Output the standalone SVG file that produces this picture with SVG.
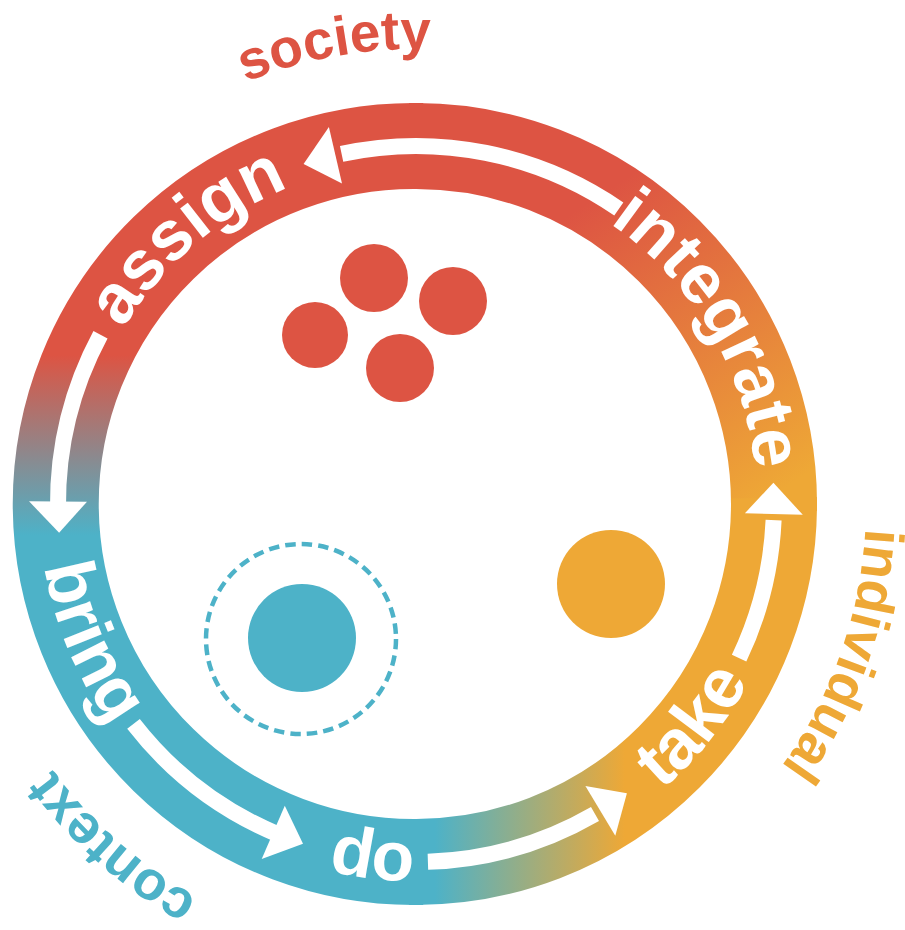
<svg xmlns="http://www.w3.org/2000/svg" xmlns:xlink="http://www.w3.org/1999/xlink" width="905" height="930" viewBox="0 0 905 930">
<defs>
<style>
.band{fill:none;stroke-width:86}
.lbl{font-family:"Liberation Sans",Arial,Helvetica,sans-serif;font-weight:bold;font-size:70px;fill:#ffffff}
.out{font-family:"Liberation Sans",Arial,Helvetica,sans-serif;font-weight:bold;font-size:55px}
.shaft{fill:none;stroke:#ffffff;stroke-width:16;stroke-linecap:butt}
.head{fill:#ffffff}
</style>
<linearGradient id="gLeft" gradientUnits="userSpaceOnUse" x1="0" y1="355" x2="0" y2="535">
<stop offset="0" stop-color="#DD5443"/><stop offset="1" stop-color="#4DB2C8"/>
</linearGradient>
<linearGradient id="gTR" gradientUnits="userSpaceOnUse" x1="600" y1="195" x2="790" y2="485">
<stop offset="0" stop-color="#DD5443"/><stop offset="1" stop-color="#EEA836"/>
</linearGradient>
<linearGradient id="gBR" gradientUnits="userSpaceOnUse" x1="435" y1="0" x2="625" y2="0">
<stop offset="0" stop-color="#4DB2C8"/><stop offset="1" stop-color="#EEA836"/>
</linearGradient>
<path id="cw341" d="M 75 504 A 341 341 0 1 1 757 504 A 341 341 0 1 1 75 504"/>
<path id="ccw377" d="M 39 504 A 377 377 0 1 0 793 504 A 377 377 0 1 0 39 504"/>
<path id="cw455" d="M -39 504 A 455 455 0 1 1 871 504 A 455 455 0 1 1 -39 504"/>
<path id="cw450" d="M -34 504 A 450 450 0 1 1 866 504 A 450 450 0 1 1 -34 504"/>
</defs>

<g id="ring">
<path class="band" stroke="url(#gLeft)" d="M 422.2 861.9 A 358 358 0 1 1 422.2 146.1"/>
<path class="band" stroke="url(#gTR)" d="M 409.75 146.1 A 358 358 0 0 1 773.95 510.25"/>
<path class="band" stroke="url(#gBR)" d="M 773.95 497.75 A 358 358 0 0 1 409.75 861.9"/>
</g>

<g id="connectors">
<path class="shaft" d="M 618.8 209.0 A 358 358 0 0 0 341.6 153.8"/>
<polygon class="head" points="303.6,164.1 328.9,126.9 342.0,183.4"/>
<path class="shaft" d="M 100.5 334.8 A 358 358 0 0 0 58.0 507.1"/>
<polygon class="head" points="59.1,532.7 29.0,501.3 87.0,501.7"/>
<path class="shaft" d="M 133.5 723.9 A 358 358 0 0 0 279.0 834.8"/>
<polygon class="head" points="303.0,843.7 261.7,858.9 284.8,805.7"/>
<path class="shaft" d="M 427.9 861.8 A 358 358 0 0 0 595.0 814.0"/>
<polygon class="head" points="626.9,793.3 615.3,835.7 585.4,786.0"/>
<path class="shaft" d="M 739.1 658.1 A 358 358 0 0 0 773.6 520.2"/>
<polygon class="head" points="773.4,482.8 802.8,514.8 744.9,513.2"/>
</g>

<g id="assign"><text class="lbl" text-anchor="middle"><textPath xlink:href="#cw341" href="#cw341" startOffset="13.75%">assign</textPath></text></g>
<g id="integrate"><text class="lbl" text-anchor="middle"><textPath xlink:href="#cw341" href="#cw341" startOffset="41.5%">integrate</textPath></text></g>
<g id="bring"><text class="lbl" text-anchor="middle"><textPath xlink:href="#ccw377" href="#ccw377" startOffset="6.36%">bring</textPath></text></g>
<g id="do"><text class="lbl" text-anchor="middle"><textPath xlink:href="#ccw377" href="#ccw377" startOffset="23.06%">do</textPath></text></g>
<g id="take"><text class="lbl" text-anchor="middle"><textPath xlink:href="#ccw377" href="#ccw377" startOffset="39.25%">take</textPath></text></g>

<g id="society"><text class="out" fill="#DD5443" text-anchor="middle"><textPath xlink:href="#cw455" href="#cw455" startOffset="22.2%">society</textPath></text></g>
<g id="individual"><text class="out" fill="#EEA836" text-anchor="middle"><textPath xlink:href="#cw450" href="#cw450" startOffset="55.4%">individual</textPath></text></g>
<g id="context"><text class="out" fill="#4DB2C8" text-anchor="middle"><textPath xlink:href="#cw450" href="#cw450" startOffset="86.5%">context</textPath></text></g>

<g id="society-dots" fill="#DD5443">
<circle cx="374" cy="278" r="34"/>
<circle cx="315" cy="335" r="33"/>
<circle cx="400" cy="368" r="34"/>
<circle cx="453" cy="301" r="34"/>
</g>
<g id="individual-dot"><circle cx="611" cy="584" r="54" fill="#EEA836"/></g>
<g id="context-dot">
<circle cx="301" cy="639" r="95" fill="none" stroke="#4DB2C8" stroke-width="4.5" stroke-dasharray="10.5 6.08"/>
<circle cx="302" cy="638" r="54" fill="#4DB2C8"/>
</g>
</svg>
